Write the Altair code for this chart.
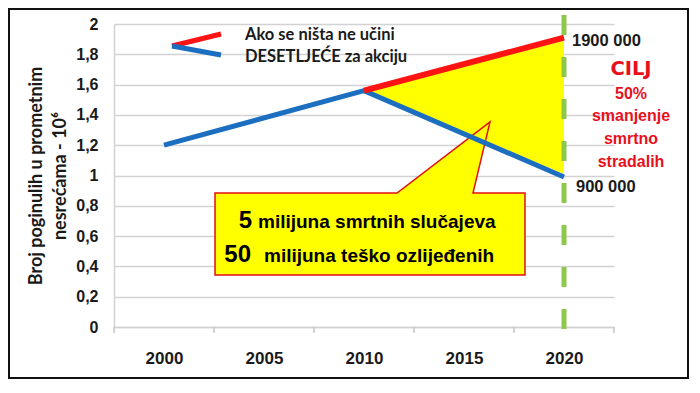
import altair as alt
import pandas as pd

# ---- data ----
categories = [2000, 2005, 2010, 2015, 2020]
y_ticks = [0, 0.2, 0.4, 0.6, 0.8, 1, 1.2, 1.4, 1.6, 1.8, 2]

blue_years = [2000, 2010, 2020]
blue_values = [1.20, 1.56, 0.99]          # "DESETLJEĆE za akciju"

red_years = [2010, 2020]
red_values = [1.56, 1.91]                 # "Ako se ništa ne učini"

gap_years = [2010, 2020]
gap_low = [1.56, 1.01]
gap_high = [1.56, 1.89]

target_year = [2020]

# ---- frames ----
blue_df = pd.DataFrame({"year": blue_years, "v": blue_values})
red_df = pd.DataFrame({"year": red_years, "v": red_values})
gap_df = pd.DataFrame({"year": gap_years, "v": gap_low, "hi": gap_high})
target_df = pd.DataFrame({"year": target_year})
step = categories[1] - categories[0]
bounds_df = pd.DataFrame({"year": [c - step / 2 for c in categories] + [categories[-1] + step / 2]})
one = pd.DataFrame({"a": [0]})

W, H = 500, 303
xscale = alt.Scale(domain=[categories[0] - step / 2, categories[-1] + step / 2], nice=False, zero=False)
yscale = alt.Scale(domain=[0, 2], nice=False)

GRID = "#d2d2d2"
BLUE = "#1C6FC0"
RED = "#FF1414"
TXT = "#1a1a1a"
CAL = "Lato"
ARI = "Liberation Sans"

x_axis = alt.Axis(values=categories, format="d", ticks=False, tickSize=0, grid=False,
                  domainColor=GRID, domainWidth=1.5, labelFont=ARI, labelFontSize=17,
                  labelFontWeight="bold", labelColor=TXT, labelPadding=36,
                  labelBaseline="alphabetic", title=None)
y_axis = alt.Axis(values=y_ticks, ticks=False, tickSize=0, grid=True, gridColor=GRID,
                  gridWidth=1.5, domainColor=GRID, domainWidth=1.5,
                  labelExpr="replace(format(datum.value, '~g'), '.', ',')",
                  labelFont=ARI, labelFontSize=16, labelFontWeight="bold",
                  labelColor=TXT, labelPadding=16,
                  title=["Broj poginulih u prometnim", "nesrećama - 10⁶"],
                  titleFont=CAL, titleFontSize=18, titleFontWeight="bold",
                  titleColor=TXT, titleAngle=-90, titleX=-78, titleY=151.5,
                  titleAlign="center", titleBaseline="middle", titleLineHeight=24)

X = alt.X("year:Q", scale=xscale, axis=x_axis)
Y = alt.Y("v:Q", scale=yscale, axis=y_axis)

border = alt.Chart(one).mark_rect(fillOpacity=0, stroke="#111", strokeWidth=2).encode(
    x=alt.value(-105), x2=alt.value(574), y=alt.value(-15), y2=alt.value(354))

gap = alt.Chart(gap_df).mark_area(color="#FFFF00", opacity=1).encode(
    x=X, y=Y, y2="hi:Q")

callout_path = "M101,169 L283,169 L376,98 L359,169 L411,169 L411,251 L101,251 Z"
callout = alt.Chart(one).mark_point(shape=callout_path, size=4, filled=True,
                                    fill="#FFFF00", fillOpacity=1, opacity=1,
                                    stroke="#E01010", strokeWidth=1.5).encode(
    x=alt.value(0), y=alt.value(0))

target = alt.Chart(target_df).mark_rule(color="#8CC84B", strokeWidth=5,
                                        strokeDash=[20, 22]).encode(
    x=X, y=alt.value(-9), y2=alt.value(309))

ticks = alt.Chart(bounds_df).mark_rule(color="#c4c4c4", strokeWidth=1.5).encode(
    x=X, y=alt.value(H), y2=alt.value(H + 6))

blue_line = alt.Chart(blue_df).mark_line(color=BLUE, strokeWidth=5, strokeCap="butt",
                                         strokeJoin="miter").encode(x=X, y=Y)
red_line = alt.Chart(red_df).mark_line(color=RED, strokeWidth=6, strokeCap="butt").encode(
    x=X, y=Y)

leg_red = alt.Chart(one).mark_rule(color=RED, strokeWidth=5).encode(
    x=alt.value(58), y=alt.value(22), x2=alt.value(107), y2=alt.value(10))
leg_blue = alt.Chart(one).mark_rule(color=BLUE, strokeWidth=5).encode(
    x=alt.value(58), y=alt.value(22), x2=alt.value(107), y2=alt.value(31))


def label(txt, x, y, size, color=TXT, font=ARI, align="left", weight="bold"):
    return alt.Chart(one).mark_text(text=txt, font=font, fontSize=size, fontWeight=weight,
                                    color=color, align=align, baseline="alphabetic").encode(
        x=alt.value(x), y=alt.value(y))


RED_T = "#E8101C"
texts = [
    label("Ako se ništa ne učini", 131, 16, 16.5, font=CAL),
    label("DESETLJEĆE za akciju", 131, 38, 16.5, font=CAL),
    label("1900 000", 458, 22, 16.5),
    label("900 000", 462, 168, 16.5),
    label("CILJ", 517, 51, 19.5, color=RED_T, font="DejaVu Sans", align="center"),
    label("50%", 517, 75, 16, color=RED_T, align="center"),
    label("smanjenje", 517, 97, 16, color=RED_T, align="center"),
    label("smrtno", 517, 120, 16, color=RED_T, align="center"),
    label("stradalih", 517, 143, 16, color=RED_T, align="center"),
    label("5", 138, 204, 24, color="#000", align="right"),
    label("milijuna smrtnih slučajeva", 144, 204, 19, color="#000"),
    label("50", 137, 238, 24, color="#000", align="right"),
    label("milijuna teško ozlijeđenih", 150, 238, 19, color="#000"),
]

chart = alt.layer(border, gap, callout, target, ticks, blue_line, red_line,
                  leg_red, leg_blue, *texts).properties(
    width=W, height=H,
    autosize=alt.AutoSizeParams(type="none"),
    padding={"left": 106, "top": 16, "right": 78, "bottom": 58},
    background="white",
).configure_view(strokeWidth=0)

chart.save("out.html", embed_options={"renderer": "svg", "actions": False})
